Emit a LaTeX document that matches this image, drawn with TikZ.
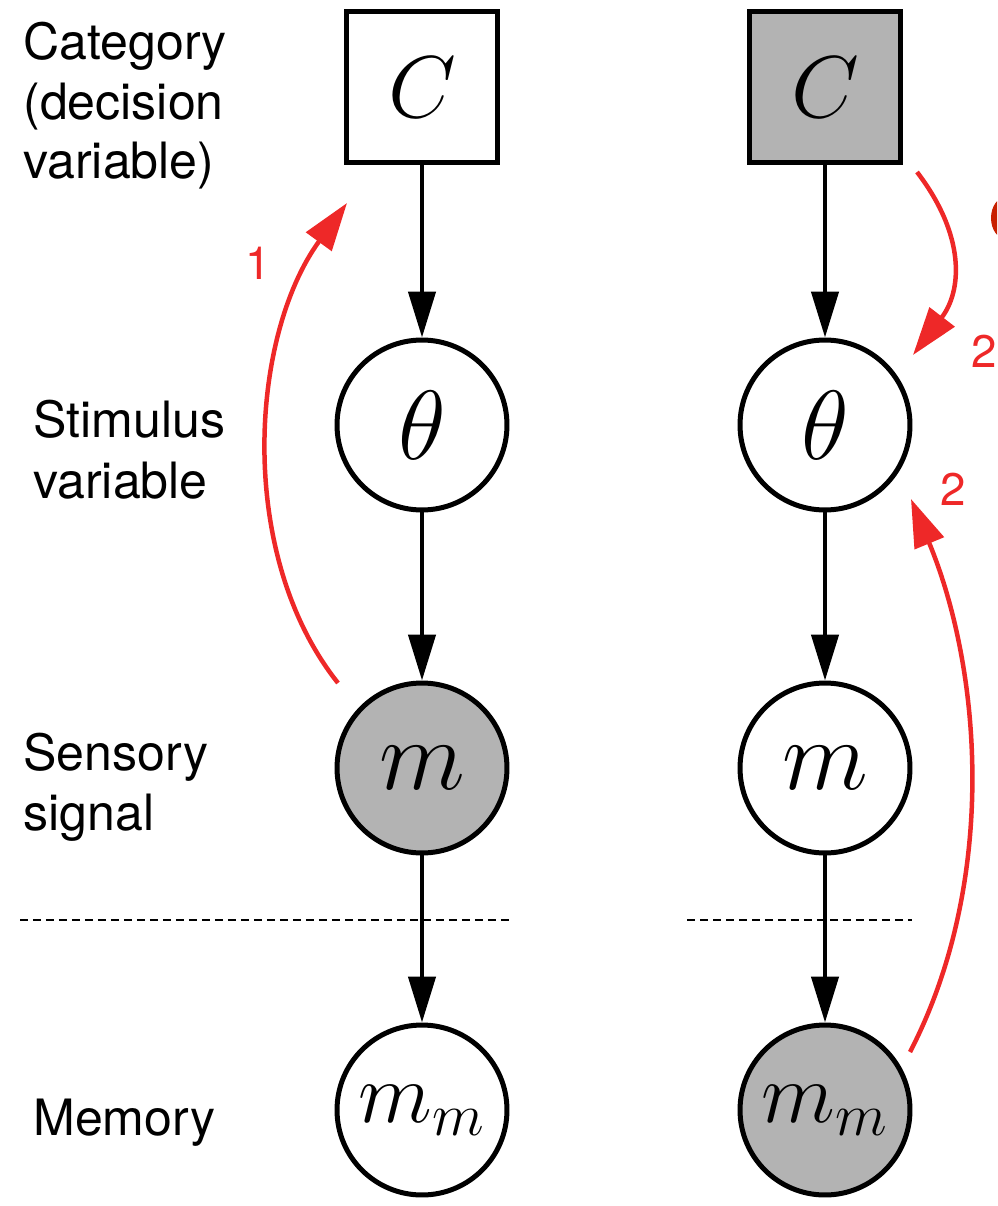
\documentclass[tikz,border=0pt]{standalone}
\usepackage{fix-cm}
\usepackage{fontspec}
\newfontfamily\labelfont{TeX Gyre Heros}
\usetikzlibrary{arrows.meta}
\definecolor{nodegray}{HTML}{B3B3B3}
\definecolor{flowred}{HTML}{EE2828}
\definecolor{edgered}{HTML}{C82000}
\begin{document}
\begin{tikzpicture}[x=0.02cm,y=-0.02cm,
  var/.style={circle, draw=black, line width=0.1cm, minimum size=3.4cm, inner sep=0pt},
  cat/.style={rectangle, draw=black, line width=0.1cm, minimum size=3.02cm, inner sep=0pt},
  observed/.style={fill=nodegray},
  link/.style={line width=0.09cm, -{Triangle[length=0.92cm,width=0.54cm]}},
  infer/.style={draw=flowred, line width=0.09cm, -{Triangle[length=0.96cm,width=0.62cm]}},
  lbl/.style={font=\labelfont\fontsize{28.5}{34}\selectfont, inner sep=0pt, anchor=base west},
  steplbl/.style={font=\labelfont\fontsize{26}{30}\selectfont, text=flowred, inner sep=0pt},
  sep/.style={dashed, dash pattern=on 0.16cm off 0.1cm, line width=0.035cm},
  mC/.style={font=\fontsize{50}{58}\selectfont},
  mT/.style={font=\fontsize{56}{64}\selectfont},
  mM/.style={font=\fontsize{57}{64}\selectfont},
  mMM/.style={font=\fontsize{49}{56}\selectfont}
]
\useasboundingbox (0,0) rectangle (997,1206);

% row labels
\node[lbl] (cat1) at (23,60) {Category};
\node[lbl] (cat2) at (23,120) {(decision};
\node[lbl] (cat3) at (23,179) {variable)};
\node[lbl] (stim1) at (33,437) {Stimulus};
\node[lbl] (stim2) at (33,498) {variable};
\node[lbl] (sens1) at (23,770) {Sensory};
\node[lbl] (sens2) at (23,830) {signal};
\node[lbl] (mem) at (33,1135) {Memory};

% left model
\node[cat, mC] (c1) at (422,87) {$C$};
\node[var, mT] (t1) at (422,425) {$\theta$};
\node[var, observed, mM] (m1) at (422,768) {$m$};
\node[var, mMM] (mm1) at (422,1110) {$m_m$};

% right model
\node[cat, observed, mC] (c2) at (825,87) {$C$};
\node[var, mT] (t2) at (825,425) {$\theta$};
\node[var, mM] (m2) at (825,768) {$m$};
\node[var, observed, mMM] (mm2) at (825,1110) {$m_m$};

% generative links
\draw[link] (c1) -- (t1);
\draw[link] (t1) -- (m1);
\draw[link] (m1) -- (mm1);
\draw[link] (c2) -- (t2);
\draw[link] (t2) -- (m2);
\draw[link] (m2) -- (mm2);

% memory boundary
\coordinate (sepL1) at (20,920);
\coordinate (sepL2) at (510,920);
\coordinate (sepR1) at (687,920);
\coordinate (sepR2) at (912,920);
\draw[sep] (sepL1) -- (sepL2);
\draw[sep] (sepR1) -- (sepR2);

% inference arrows
\coordinate (a1s) at (338,683);
\coordinate (a1e) at (347,203);
\draw[infer] (a1s) .. controls (236,555) and (250,336) .. (a1e);
\node[steplbl] (n1) at (258,263) {1};

\coordinate (a2s) at (917,172);
\coordinate (a2e) at (913,355);
\draw[infer] (a2s) .. controls (966,236) and (962,291) .. (a2e);
\node[steplbl] (n2a) at (984,351) {2};

\coordinate (a3s) at (910,1052);
\coordinate (a3e) at (911,499);
\draw[infer] (a3s) .. controls (997,884) and (983,673) .. (a3e);
\node[steplbl] (n2b) at (953,489) {2};

% mark cut by the right edge
\begin{scope}
\clip (0,0) rectangle (997,1206);
\fill[edgered] (1006,218) ellipse [x radius=0.3cm, y radius=0.42cm];
\end{scope}
\end{tikzpicture}
\end{document}
